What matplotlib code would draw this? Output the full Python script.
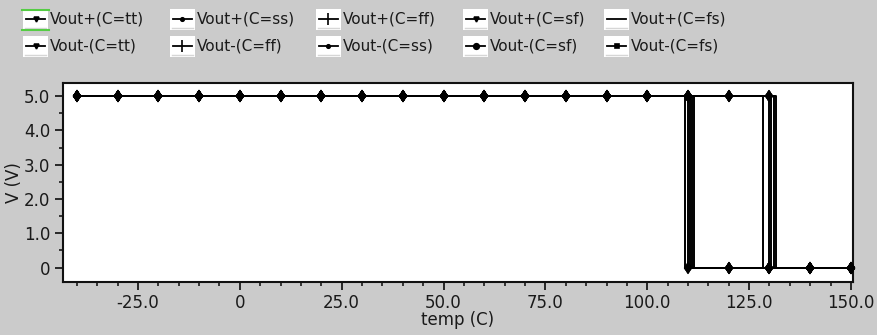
import numpy as np
import matplotlib
matplotlib.use("Agg")
import matplotlib.pyplot as plt
from matplotlib.lines import Line2D
from matplotlib.patches import Rectangle
from matplotlib.ticker import FixedLocator, MultipleLocator, FuncFormatter

# ---- data ----
marker_temps = [-40, -30, -20, -10, 0, 10, 20, 30, 40, 50, 60, 70, 80, 90,
                100, 110, 120, 130, 140, 150]
v_high = 5.0
v_low = 0.0
series_names = ["Vout+(C=tt)", "Vout-(C=tt)", "Vout+(C=ss)", "Vout-(C=ff)",
                "Vout+(C=ff)", "Vout-(C=ss)", "Vout+(C=sf)", "Vout-(C=sf)",
                "Vout+(C=fs)", "Vout-(C=fs)"]
# temperature where each output switches from 5 V to 0 V
switch_temps = [110.5, 110.0, 131.0, 109.3, 111.0, 130.4, 129.8, 128.4, 111.4, 131.7]
x_ticks = [-25.0, 0, 25.0, 50.0, 75.0, 100.0, 125.0, 150.0]
y_ticks = [0, 1.0, 2.0, 3.0, 4.0, 5.0]

# legend symbols
legend_markers = {"Vout+(C=tt)": ("v", 3.5), "Vout-(C=tt)": ("v", 3.5),
                  "Vout+(C=ss)": ("o", 2.5), "Vout-(C=ss)": ("o", 2.5),
                  "Vout+(C=ff)": ("|", 9), "Vout-(C=ff)": ("|", 9),
                  "Vout+(C=sf)": ("v", 3.5), "Vout-(C=sf)": ("o", 4),
                  "Vout+(C=fs)": ("", 0), "Vout-(C=fs)": ("s", 3)}

BG = "#cbcbcb"
TXT = "#1a1a1a"
fig = plt.figure(figsize=(8.78, 3.35), dpi=100, facecolor=BG)
ax = fig.add_axes([63/878, 1-282/335, (853-63)/878, (282-83)/335])
ax.set_facecolor("white")

for name, sw in zip(series_names, switch_temps):
    t = np.array(marker_temps, dtype=float)
    before = t[t < sw]
    after = t[t > sw]
    xs = np.concatenate([before, [sw, sw], after])
    ys = np.concatenate([np.full(len(before), v_high), [v_high, v_low], np.full(len(after), v_low)])
    ax.plot(xs, ys, color="black", lw=1.4, zorder=2)
    mv = np.where(t < sw, v_high, v_low)
    ax.plot(t, mv, ls="none", marker="d", ms=6.5, color="black", mew=0.2,
            markeredgecolor="black", zorder=3, clip_on=False)

ax.set_xlim(-43.4, 150.5)
ax.set_ylim(-0.42, 5.38)
ax.xaxis.set_major_locator(FixedLocator(x_ticks))
ax.xaxis.set_minor_locator(MultipleLocator(5))
ax.yaxis.set_major_locator(FixedLocator(y_ticks))
ax.yaxis.set_minor_locator(MultipleLocator(0.5))
fmt = FuncFormatter(lambda v, p: "0" if abs(v) < 1e-9 else ("%.1f" % v).replace("\u2212", "-"))
ax.xaxis.set_major_formatter(fmt)
ax.yaxis.set_major_formatter(fmt)
ax.tick_params(which="major", direction="out", length=6, width=1.3, labelsize=12,
               colors=TXT, pad=3)
ax.tick_params(which="minor", direction="out", length=3, width=1.2, colors=TXT)
for s in ax.spines.values():
    s.set_linewidth(1.5)
    s.set_color("#111111")
ax.set_xlabel("temp (C)", fontsize=12, color=TXT, labelpad=-1)
ax.set_ylabel("V (V)", fontsize=12, color=TXT, labelpad=1)

# ---- legend (manual, 5 columns x 2 rows) ----
col_px = [23, 170, 316, 463, 604]
row_px = [19, 46]
W, H = 878, 335
for i, name in enumerate(series_names):
    c, r = i // 2, i % 2
    x0 = col_px[c]
    yc = row_px[r]
    fig.patches.append(Rectangle((x0/W, 1-(yc+11)/H), 25/W, 21/H, transform=fig.transFigure,
                                 facecolor="white", edgecolor="none", zorder=1))
    fig.lines.append(Line2D([(x0+2)/W, (x0+23)/W], [1-(yc+9)/H]*2, transform=fig.transFigure,
                            color="#d6d6d6", lw=1.0, zorder=2))
    mk, ms = legend_markers[name]
    fig.lines.append(Line2D([(x0+3)/W, (x0+22)/W], [1-yc/H]*2, transform=fig.transFigure,
                            color="black", lw=1.3, zorder=3))
    if mk:
        fig.lines.append(Line2D([(x0+12.5)/W], [1-yc/H], transform=fig.transFigure, ls="none",
                                marker=mk, ms=ms, mew=1.2, color="black", zorder=4))
    fig.text((x0+27)/W, 1-yc/H, name, fontsize=11, va="center", ha="left", color=TXT)

# selection highlight on first entry
for yy in (row_px[0]-9, row_px[0]+11):
    fig.lines.append(Line2D([22/W, 49/W], [1-yy/H]*2, transform=fig.transFigure,
                            color="#55cc44", lw=1.5, zorder=5))

fig.savefig("out.png", dpi=100, facecolor=BG)
